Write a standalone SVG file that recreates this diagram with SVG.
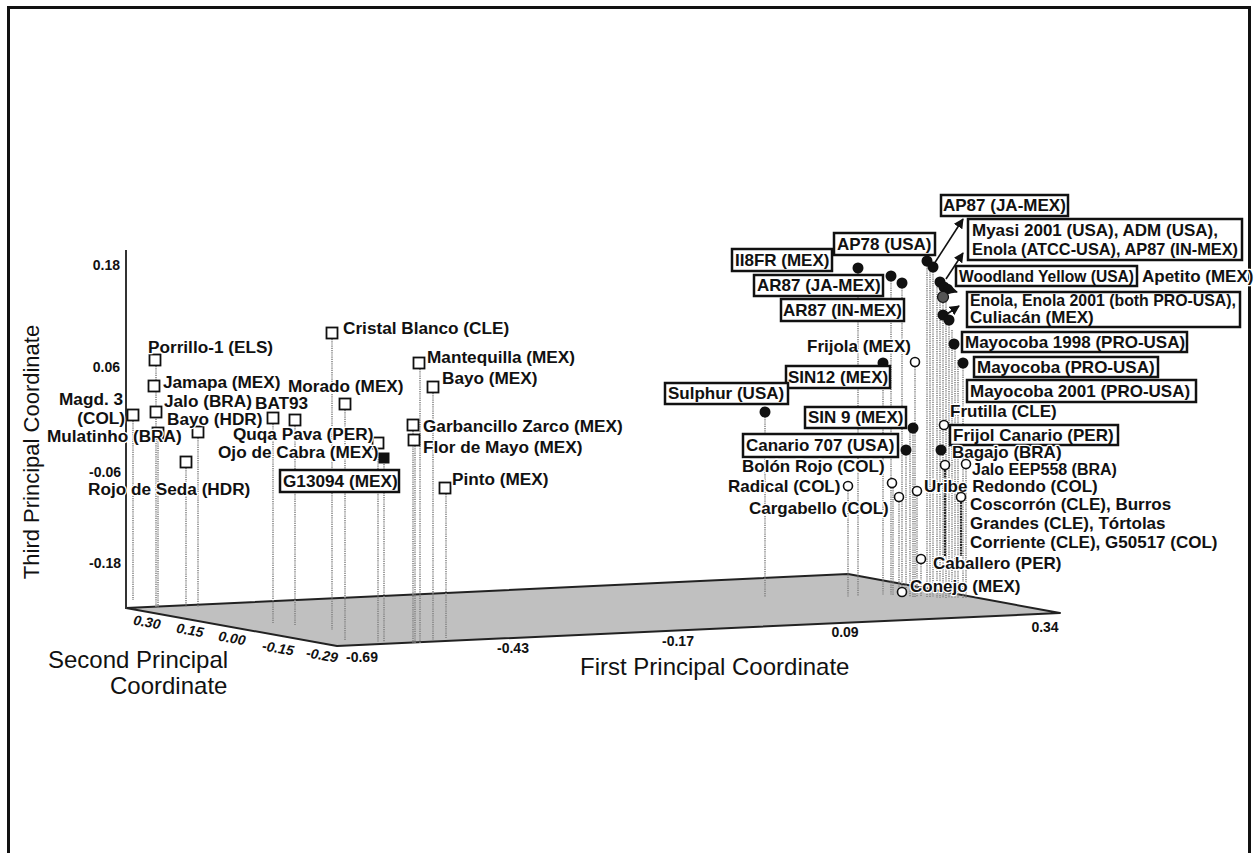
<svg xmlns="http://www.w3.org/2000/svg" width="1258" height="853" viewBox="0 0 1258 853">
<style>
text{font-family:"Liberation Sans",Arial,sans-serif;fill:#111}
.l{font-size:17px;font-weight:bold}
#nodes .lf{font-size:17.2px}
.h{stroke:#fff;stroke-width:2.5;paint-order:stroke;stroke-linejoin:round}
.tk{font-size:14px;font-weight:bold}
.ti{font-size:14px;font-weight:bold;font-style:italic}
.ax{font-size:24px}
.bx{fill:#fff;stroke:#111;stroke-width:2.5}
.sq{fill:#fff;stroke:#111;stroke-width:1.8}
.dt{fill:#111}
.oc{fill:#fff;stroke:#111;stroke-width:1.6}
.dr line{stroke:#808080;stroke-width:1.5;stroke-dasharray:1.2 1}
.dk{stroke:#222!important;stroke-width:2.2!important;stroke-dasharray:2 0.8!important}
.cn line{stroke:#111;stroke-width:1.6}
</style>
<defs>
<marker id="ah" viewBox="0 0 10 10" refX="9" refY="5" markerWidth="10" markerHeight="10" markerUnits="userSpaceOnUse" orient="auto">
<path d="M0,0 L10,5 L0,10 z" fill="#111"/>
</marker>
</defs>
<rect x="8.5" y="7.5" width="1241" height="900" fill="#fff" stroke="#111" stroke-width="3"/>

<g id="floor">
<polygon points="126,608 848,574 1060,613 337,646" fill="#c0c0c0" stroke="#222" stroke-width="2" stroke-linejoin="round"/>
</g>

<g id="drops" class="dr">
<line x1="133" y1="421" x2="133" y2="600"/>
<line x1="156" y1="366" x2="156" y2="608"/>
<line x1="158" y1="439" x2="158" y2="608"/>
<line x1="186" y1="468" x2="186" y2="607"/>
<line x1="198" y1="438" x2="198" y2="607"/>
<line x1="273" y1="424" x2="273" y2="623"/>
<line x1="295" y1="426" x2="295" y2="625"/>
<line x1="332" y1="339" x2="332" y2="630"/>
<line x1="345" y1="410" x2="345" y2="640"/>
<line x1="378" y1="448" x2="378" y2="642"/>
<line x1="384" y1="464" x2="384" y2="642"/>
<line x1="413" y1="431" x2="413" y2="643"/>
<line x1="415" y1="446" x2="415" y2="643"/>
<line x1="420" y1="369" x2="420" y2="643"/>
<line x1="433" y1="393" x2="433" y2="640"/>
<line x1="446" y1="494" x2="446" y2="638"/>
<line x1="765" y1="417" x2="765" y2="597"/>
<line x1="848" y1="491" x2="848" y2="597"/>
<line x1="858" y1="273" x2="858" y2="596"/>
<line x1="883" y1="368" x2="883" y2="595"/>
<line x1="891" y1="281" x2="891" y2="595"/>
<line x1="893" y1="488" x2="893" y2="595"/>
<line x1="899" y1="502" x2="899" y2="596"/>
<line x1="902" y1="288" x2="902" y2="596"/>
<line x1="906" y1="455" x2="906" y2="596"/>
<line x1="910" y1="430" x2="910" y2="597"/>
<line x1="913" y1="433" x2="913" y2="597"/>
<line x1="915" y1="367" x2="915" y2="597"/>
<line x1="917" y1="496" x2="917" y2="597"/>
<line x1="921" y1="564" x2="921" y2="597"/>
<line x1="927" y1="266" x2="927" y2="597"/>
<line x1="930" y1="268" x2="930" y2="597"/>
<line x1="933" y1="272" x2="933" y2="597"/>
<line x1="937" y1="285" x2="937" y2="598"/>
<line x1="940" y1="287" x2="940" y2="598"/>
<line x1="943" y1="292" x2="943" y2="598"/>
<line x1="946" y1="300" x2="946" y2="598"/>
<line x1="949" y1="325" x2="949" y2="598"/>
<line x1="952" y1="330" x2="952" y2="598"/>
<line x1="955" y1="349" x2="955" y2="598"/>
<line x1="958" y1="360" x2="958" y2="598"/>
<line x1="963" y1="368" x2="963" y2="598"/>
<line x1="966" y1="469" x2="966" y2="598"/>
<line class="dk" x1="945" y1="470" x2="945" y2="556"/>
<line class="dk" x1="961" y1="502" x2="961" y2="556"/>
</g>

<g id="axes">
<line x1="126" y1="250" x2="126" y2="609" stroke="#333" stroke-width="2"/>
<text class="tk" x="120" y="270" text-anchor="end">0.18</text>
<text class="tk" x="120" y="372" text-anchor="end">0.06</text>
<text class="tk" x="121" y="477" text-anchor="end">-0.06</text>
<text class="tk" x="121" y="568" text-anchor="end">-0.18</text>
<text class="ti" transform="translate(147,622) rotate(10)" y="5" text-anchor="middle">0.30</text>
<text class="ti" transform="translate(190,630) rotate(10)" y="5" text-anchor="middle">0.15</text>
<text class="ti" transform="translate(232,638) rotate(10)" y="5" text-anchor="middle">0.00</text>
<text class="ti" transform="translate(278,648) rotate(10)" y="5" text-anchor="middle">-0.15</text>
<text class="ti" transform="translate(322,655) rotate(10)" y="5" text-anchor="middle">-0.29</text>
<text class="tk" x="362" y="662" text-anchor="middle">-0.69</text>
<text class="tk" x="513" y="653" text-anchor="middle">-0.43</text>
<text class="tk" x="678" y="646" text-anchor="middle">-0.17</text>
<text class="tk" x="845" y="637" text-anchor="middle">0.09</text>
<text class="tk" x="1045" y="632" text-anchor="middle">0.34</text>
<text class="ax" style="font-size:22px" transform="translate(39,452) rotate(-90)" text-anchor="middle">Third Principal Coordinate</text>
<text class="ax" x="48" y="668">Second Principal</text>
<text class="ax" x="110" y="694">Coordinate</text>
<text class="ax" x="580" y="675">First Principal Coordinate</text>
</g>

<g id="nodes">
<g id="n-magd3"><rect class="sq" x="127.5" y="409.5" width="11" height="11"/><text class="l lf h" x="123" y="405" text-anchor="end">Magd. 3</text><text class="l lf h" x="125" y="424" text-anchor="end">(COL)</text></g>
<g id="n-porrillo"><rect class="sq" x="149.5" y="354.5" width="11" height="11"/><text class="l lf h" x="148" y="353">Porrillo-1 (ELS)</text></g>
<g id="n-jamapa"><rect class="sq" x="148.5" y="380.5" width="11" height="11"/><text class="l lf h" x="163" y="388">Jamapa (MEX)</text></g>
<g id="n-jalo"><rect class="sq" x="150.5" y="406.5" width="11" height="11"/><text class="l lf h" x="164" y="407">Jalo (BRA)</text></g>
<g id="n-mulatinho"><rect class="sq" x="152.5" y="427.5" width="11" height="11"/><text class="l lf h" x="47" y="442">Mulatinho (BRA)</text></g>
<g id="n-bayohdr"><rect class="sq" x="192.5" y="426.5" width="11" height="11"/><text class="l lf h" x="167" y="425">Bayo (HDR)</text></g>
<g id="n-rojo"><rect class="sq" x="180.5" y="456.5" width="11" height="11"/><text class="l lf h" x="88" y="495">Rojo de Seda (HDR)</text></g>
<g id="n-bat93"><rect class="sq" x="267.5" y="412.5" width="11" height="11"/><rect class="sq" x="289.5" y="414.5" width="11" height="11"/><text class="l lf h" x="255" y="409">BAT93</text></g>
<g id="n-morado"><rect class="sq" x="339.5" y="398.5" width="11" height="11"/><text class="l lf h" x="288" y="392">Morado (MEX)</text></g>
<g id="n-cristal"><rect class="sq" x="326.5" y="327.5" width="11" height="11"/><text class="l lf h" x="343" y="334">Cristal Blanco (CLE)</text></g>
<g id="n-quqa"><rect class="sq" x="372.5" y="437.5" width="11" height="11"/><text class="l lf h" x="233" y="440">Quqa Pava (PER)</text></g>
<g id="n-ojo"><text class="l lf h" x="218" y="458">Ojo de Cabra (MEX)</text></g>
<g id="n-g13094"><rect x="378.5" y="452.5" width="11" height="11" fill="#111"/><rect class="bx" x="280" y="470" width="119" height="22"/><text class="l lf" x="283" y="487">G13094 (MEX)</text></g>
<g id="n-mantequilla"><rect class="sq" x="413.5" y="357.5" width="11" height="11"/><text class="l lf h" x="427" y="363">Mantequilla (MEX)</text></g>
<g id="n-bayomex"><rect class="sq" x="427.5" y="381.5" width="11" height="11"/><text class="l lf h" x="442" y="384">Bayo (MEX)</text></g>
<g id="n-garbancillo"><rect class="sq" x="407.5" y="419.5" width="11" height="11"/><text class="l lf h" x="423" y="432">Garbancillo Zarco (MEX)</text></g>
<g id="n-flor"><rect class="sq" x="408.5" y="434.5" width="11" height="11"/><text class="l lf h" x="423" y="453">Flor de Mayo (MEX)</text></g>
<g id="n-pinto"><rect class="sq" x="439.5" y="482.5" width="11" height="11"/><text class="l lf h" x="452" y="485">Pinto (MEX)</text></g>

<g id="n-i8fr"><circle class="dt" cx="858" cy="268" r="5.5"/><rect class="bx" x="732" y="249" width="100" height="22"/><text class="l" x="735" y="266">II8FR (MEX)</text></g>
<g id="n-ap78"><circle class="dt" cx="927" cy="261" r="5.5"/><circle class="dt" cx="933" cy="267" r="5.5"/><rect class="bx" x="834" y="233" width="101" height="22"/><text class="l" x="837" y="250">AP78 (USA)</text></g>
<g id="n-ar87ja"><circle class="dt" cx="891" cy="276" r="5.5"/><rect class="bx" x="754" y="275" width="129" height="21"/><text class="l" x="757" y="291">AR87 (JA-MEX)</text></g>
<g id="n-ar87in"><circle class="dt" cx="902" cy="283" r="5.5"/><rect class="bx" x="781" y="299" width="123" height="22"/><text class="l" x="783" y="316">AR87 (IN-MEX)</text></g>
<g id="n-cluster"><circle class="dt" cx="940" cy="282" r="5.5"/><circle class="dt" cx="944" cy="287" r="5.5"/><circle class="dt" cx="948" cy="289" r="5"/><circle cx="943" cy="297" r="5.5" fill="#555" stroke="#111" stroke-width="1.2"/><circle class="dt" cx="943" cy="315" r="5.5"/><circle class="dt" cx="949" cy="320" r="5.5"/></g>
<g id="n-ap87ja"><rect class="bx" x="941" y="195" width="127" height="21"/><text class="l" x="943" y="211">AP87 (JA-MEX)</text></g>
<g id="n-myasi"><rect class="bx" x="968" y="219" width="274" height="41"/><text class="l" x="972" y="236">Myasi 2001 (USA), ADM (USA),</text><text class="l" x="972" y="255" textLength="266" lengthAdjust="spacingAndGlyphs">Enola (ATCC-USA), AP87 (IN-MEX)</text></g>
<g id="n-woodland"><rect class="bx" x="956" y="266" width="181" height="20"/><text class="l" x="959" y="282" textLength="175" lengthAdjust="spacingAndGlyphs">Woodland Yellow (USA)</text><text class="l h" x="1142" y="282">Apetito (MEX)</text></g>
<g id="n-enola"><rect class="bx" x="967" y="292" width="273" height="35"/><text class="l" x="970" y="306" textLength="266" lengthAdjust="spacingAndGlyphs">Enola, Enola 2001 (both PRO-USA),</text><text class="l" x="970" y="323">Culiacán (MEX)</text></g>
<g id="n-mayo98"><circle class="dt" cx="954" cy="344" r="5.5"/><rect class="bx" x="962" y="332" width="225" height="20"/><text class="l" x="965" y="348">Mayocoba 1998 (PRO-USA)</text></g>
<g id="n-mayo"><circle class="dt" cx="963" cy="363" r="5.5"/><rect class="bx" x="974" y="357" width="184" height="20"/><text class="l" x="977" y="373">Mayocoba (PRO-USA)</text></g>
<g id="n-mayo01"><rect class="bx" x="967" y="380" width="229" height="22"/><text class="l" x="970" y="397">Mayocoba 2001 (PRO-USA)</text></g>
<g id="n-frijola"><circle class="oc" cx="915" cy="362" r="4.5"/><text class="l h" x="807" y="352">Frijola (MEX)</text></g>
<g id="n-sin12"><circle class="dt" cx="883" cy="363" r="5.5"/><rect class="bx" x="786" y="366" width="104" height="22"/><text class="l" x="788" y="383">SIN12 (MEX)</text></g>
<g id="n-sulphur"><circle class="dt" cx="765" cy="412" r="5.5"/><rect class="bx" x="665" y="383" width="123" height="21"/><text class="l" x="668" y="399">Sulphur (USA)</text></g>
<g id="n-sin9"><circle class="dt" cx="913" cy="428" r="5.5"/><rect class="bx" x="805" y="407" width="101" height="21"/><text class="l" x="808" y="423">SIN 9 (MEX)</text></g>
<g id="n-canario707"><circle class="dt" cx="906" cy="450" r="5.5"/><rect class="bx" x="743" y="434" width="155" height="23"/><text class="l" x="746" y="451">Canario 707 (USA)</text></g>
<g id="n-frutilla"><text class="l h" x="950" y="417">Frutilla (CLE)</text><circle class="oc" cx="944" cy="425" r="4.5"/></g>
<g id="n-frijolcanario"><rect class="bx" x="950" y="425" width="168" height="20"/><text class="l" x="953" y="441">Frijol Canario (PER)</text></g>
<g id="n-bagajo"><circle class="dt" cx="941" cy="450" r="5.5"/><text class="l h" x="952" y="458">Bagajo (BRA)</text></g>
<g id="n-jaloeep"><circle class="oc" cx="945" cy="465" r="4.5"/><circle class="oc" cx="966" cy="464" r="4.5"/><text class="l h" style="font-size:16px" x="972" y="475">Jalo EEP558 (BRA)</text></g>
<g id="n-bolon"><circle class="oc" cx="892" cy="483" r="4.5"/><text class="l h" x="742" y="472">Bolón Rojo (COL)</text></g>
<g id="n-radical"><circle class="oc" cx="848" cy="486" r="4.5"/><text class="l h" x="728" y="492">Radical (COL)</text></g>
<g id="n-cargabello"><circle class="oc" cx="899" cy="497" r="4.5"/><text class="l h" x="749" y="514">Cargabello (COL)</text></g>
<g id="n-uribe"><circle class="oc" cx="917" cy="491" r="4.5"/><text class="l h" x="924" y="492">Uribe Redondo (COL)</text></g>
<g id="n-coscorron"><circle class="oc" cx="961" cy="497" r="4.5"/><text class="l h" x="970" y="510">Coscorrón (CLE), Burros</text><text class="l h" x="970" y="529">Grandes (CLE), Tórtolas</text><text class="l h" x="970" y="548">Corriente (CLE), G50517 (COL)</text></g>
<g id="n-caballero"><circle class="oc" cx="921" cy="559" r="4.5"/><text class="l h" x="933" y="569">Caballero (PER)</text></g>
<g id="n-conejo"><circle class="oc" cx="902" cy="592" r="4.5"/><text class="l h" x="910" y="592">Conejo (MEX)</text></g>
</g>

<g id="connectors" class="cn">
<line x1="934" y1="264" x2="963" y2="219" marker-end="url(#ah)"/>
<line x1="946" y1="279" x2="963" y2="253" marker-end="url(#ah)"/>
<line x1="944" y1="288" x2="957" y2="292" marker-end="url(#ah)"/>
<line x1="947" y1="314" x2="959" y2="306" marker-end="url(#ah)"/>
</g>
</svg>
